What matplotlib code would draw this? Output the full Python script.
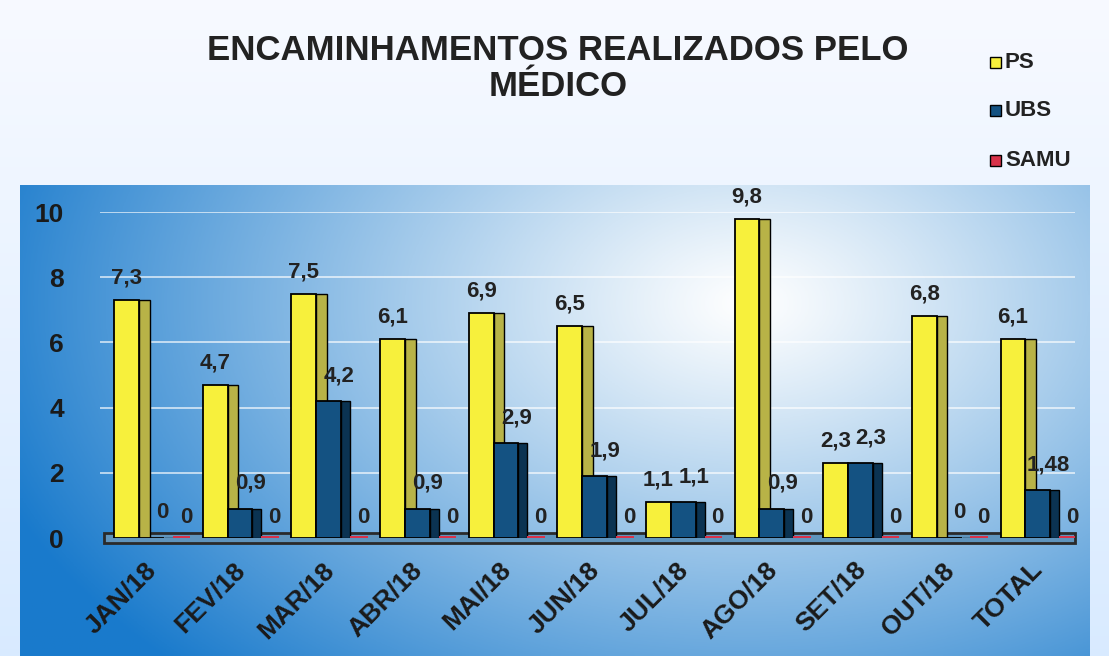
import numpy as np
import matplotlib
matplotlib.use("Agg")
import matplotlib.pyplot as plt
from matplotlib.patches import Rectangle

plt.rcParams['font.family'] = ['Liberation Sans', 'DejaVu Sans']

# dados do gráfico
meses = ["JAN/18", "FEV/18", "MAR/18", "ABR/18", "MAI/18", "JUN/18",
         "JUL/18", "AGO/18", "SET/18", "OUT/18", "TOTAL"]
ps = [7.3, 4.7, 7.5, 6.1, 6.9, 6.5, 1.1, 9.8, 2.3, 6.8, 6.1]
ubs = [0, 0.9, 4.2, 0.9, 2.9, 1.9, 1.1, 0.9, 2.3, 0, 1.48]
samu = [0, 0, 0, 0, 0, 0, 0, 0, 0, 0, 0]
rot_ps = ["7,3", "4,7", "7,5", "6,1", "6,9", "6,5", "1,1", "9,8", "2,3", "6,8", "6,1"]
rot_ubs = ["0", "0,9", "4,2", "0,9", "2,9", "1,9", "1,1", "0,9", "2,3", "0", "1,48"]
rot_samu = ["0"] * 11

cor_ps = "#f7f03c"
cor_ps_lado = "#b8b347"
cor_ubs = "#145282"
cor_ubs_lado = "#0b3352"
cor_samu = "#d8324a"

fig = plt.figure(figsize=(11.09, 6.56), dpi=100)

# fundo da figura (gradiente claro)
fundo = fig.add_axes([0, 0, 1, 1])
yy, xx = np.mgrid[0:1:200j, 0:1:300j]
claro = np.zeros((200, 300, 3))
claro[..., 0] = 0.97 - 0.12 * yy
claro[..., 1] = 0.98 - 0.06 * yy
claro[..., 2] = 1.0
fundo.imshow(claro, extent=[0, 1, 0, 1], aspect="auto", origin="upper")

# painel azul com gradiente radial
cx, cy = 0.68, 0.25
d = np.sqrt(((xx - cx) / 0.75) ** 2 + ((yy - cy) / 1.1) ** 2)
d = np.clip(d, 0, 1)
branco = np.array([1.0, 1.0, 1.0])
azul = np.array([0.10, 0.48, 0.80])
painel = branco + (azul - branco) * d[..., None] ** 1.1
fundo.imshow(painel, extent=[20 / 1109, 1090 / 1109, 0, 471 / 656],
             aspect="auto", origin="upper")
fundo.set_xlim(0, 1)
fundo.set_ylim(0, 1)
fundo.axis("off")

ax = fig.add_axes([100 / 1109, 118 / 656, 975 / 1109, 326 / 656])
ax.patch.set_alpha(0)
ax.set_xlim(-0.5, 10.5)
ax.set_ylim(0, 10)

x = np.arange(len(meses))
w = 0.28
lado = 0.12

# grade
for v in range(2, 11, 2):
    ax.axhline(v, color="white", lw=1.2, alpha=0.75, zorder=0)

# piso
ax.add_patch(Rectangle((-0.45, -0.14), 10.95, 0.28, facecolor="#5f94bd",
                       edgecolor="#2a2a2a", lw=2, zorder=1, clip_on=False))

ax.bar(x - 0.2, ps, width=w, color=cor_ps, edgecolor="black", lw=1.3, zorder=3)
ax.bar(x - 0.06 + lado / 2, ps, width=lado, color=cor_ps_lado, edgecolor="black",
       lw=1.0, zorder=2)
ax.bar(x + 0.08, ubs, width=w, color=cor_ubs, edgecolor="black", lw=1.3, zorder=4)
ax.bar(x + 0.22 + 0.05, ubs, width=0.1, color=cor_ubs_lado, edgecolor="black",
       lw=1.0, zorder=3)
ax.bar(x + 0.42, [s + 0.14 for s in samu], width=0.2, bottom=-0.07,
       color=cor_samu, zorder=4)

for i in range(len(meses)):
    ax.text(x[i] - 0.2, ps[i] + 0.35, rot_ps[i], ha="center", va="bottom",
            fontsize=16, fontweight="bold", color="#222222", zorder=6)
    ax.text(x[i] + 0.2, ubs[i] + 0.45, rot_ubs[i], ha="center", va="bottom",
            fontsize=16, fontweight="bold", color="#222222", zorder=6)
    ax.text(x[i] + 0.47, 0.3, rot_samu[i], ha="center", va="bottom",
            fontsize=16, fontweight="bold", color="#222222", zorder=6)

ax.set_xticks(x)
ax.set_xticklabels(meses, rotation=45, ha="right", rotation_mode="anchor",
                   fontsize=19, fontweight="bold", color="#1a1a1a")
ax.set_yticks(range(0, 11, 2))
ax.set_yticklabels([str(v) for v in range(0, 11, 2)], fontsize=19,
                   fontweight="bold", color="#1a1a1a")
ax.tick_params(axis="x", length=0, pad=14)
ax.tick_params(axis="y", length=0, pad=26)
for s in ax.spines.values():
    s.set_visible(False)

fig.text(558 / 1109, 1 - 50 / 656, "ENCAMINHAMENTOS REALIZADOS PELO",
         ha="center", va="center", fontsize=25, fontweight="bold", color="#222222")
fig.text(558 / 1109, 1 - 87 / 656, "MÉDICO", ha="center", va="center",
         fontsize=25, fontweight="bold", color="#222222")

# legenda
for nome, cor, yl in [("PS", cor_ps, 62), ("UBS", cor_ubs, 110), ("SAMU", cor_samu, 160)]:
    fig.patches.append(Rectangle((990 / 1109, 1 - (yl + 6) / 656), 11 / 1109, 11 / 656,
                                 facecolor=cor, edgecolor="black", lw=1,
                                 transform=fig.transFigure, figure=fig))
    fig.text(1005 / 1109, 1 - yl / 656, nome, ha="left", va="center",
             fontsize=16, fontweight="bold", color="#222222")

fig.savefig("out.png", dpi=100)
